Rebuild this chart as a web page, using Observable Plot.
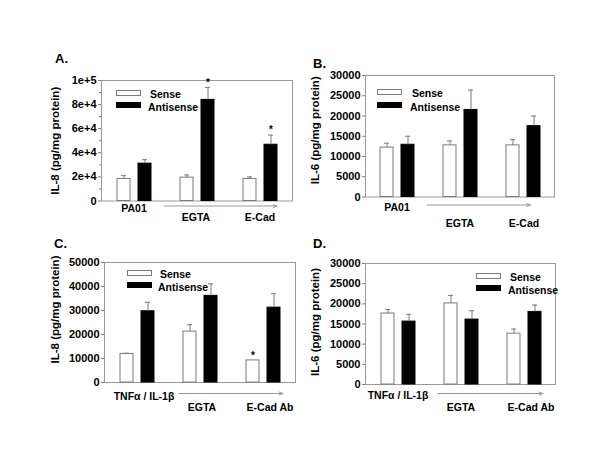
<!DOCTYPE html>
<html>
<head>
<meta charset="utf-8">
<script src="https://cdn.jsdelivr.net/npm/d3@7"></script>
<script src="https://cdn.jsdelivr.net/npm/@observablehq/plot@0.6"></script>
<style>
  html, body { margin: 0; padding: 0; background: #fff; }
  #root { position: relative; width: 600px; height: 450px; overflow: hidden; font-family: "Liberation Sans", Arial, sans-serif; font-weight: bold; color: #000; }
  .panel { position: absolute; }
  .letter { position: absolute; font-size: 13px; font-weight: bold; line-height: 1; }
  .sw { position: absolute; box-sizing: border-box; width: 25px; height: 6px; }
  .lt { position: absolute; font-size: 10.5px; font-weight: bold; line-height: 1; transform: translateY(-50%); white-space: nowrap; }
</style>
</head>
<body>
<div id="root"></div>
<script>
// ---- data ----
const seriesNames = ["Sense", "Antisense"];
const groupsAB = ["PA01", "EGTA", "E-Cad"];
const groupsCD = ["TNFα / IL-1β", "EGTA", "E-Cad Ab"];

// Panel A: IL-8 (PA01)
const aSense = [18300, 19400, 18300];
const aSenseErr = [2700, 2200, 1700];
const aAnti = [31000, 83900, 46700];
const aAntiErr = [3300, 10400, 8000];
const aSenseStar = ["", "", ""];
const aAntiStar = ["", "*", "*"];
const aTicks = [0, 20000, 40000, 60000, 80000, 100000];
const aTickLabels = ["0", "2e+4", "4e+4", "6e+4", "8e+4", "1e+5"];

// Panel B: IL-6 (PA01)
const bSense = [12200, 12750, 12750];
const bSenseErr = [1080, 1080, 1400];
const bAnti = [12900, 21500, 17500];
const bAntiErr = [2100, 4900, 2500];
const bSenseStar = ["", "", ""];
const bAntiStar = ["", "", ""];
const bTicks = [0, 5000, 10000, 15000, 20000, 25000, 30000];
const bTickLabels = ["0", "5000", "10000", "15000", "20000", "25000", "30000"];

// Panel C: IL-8 (TNFα / IL-1β)
const cSense = [11900, 21200, 9200];
const cSenseErr = [300, 2900, 0];
const cAnti = [29700, 36100, 31200];
const cAntiErr = [3700, 5000, 5800];
const cSenseStar = ["", "", "*"];
const cAntiStar = ["", "", ""];
const cTicks = [0, 10000, 20000, 30000, 40000, 50000];
const cTickLabels = ["0", "10000", "20000", "30000", "40000", "50000"];

// Panel D: IL-6 (TNFα / IL-1β)
const dSense = [17600, 20100, 12600];
const dSenseErr = [1000, 2000, 1150];
const dAnti = [15600, 16100, 18000];
const dAntiErr = [1800, 2200, 1700];
const dSenseStar = ["", "", ""];
const dAntiStar = ["", "", ""];
const dTicks = bTicks;
const dTickLabels = bTickLabels;

const yTitles = ["IL-8 (pg/mg protein)", "IL-6 (pg/mg protein)", "IL-8 (pg/mg protein)", "IL-6 (pg/mg protein)"];
const letters = ["A.", "B.", "C.", "D."];

// ---- layout (pixel positions of each panel's frame, styles) ----
const M = {left: 62, right: 8, top: 12, bottom: 34};
const panels = [
  {letter: letters[0], title: yTitles[0], groups: groupsAB, sense: aSense, senseErr: aSenseErr, anti: aAnti, antiErr: aAntiErr, senseStar: aSenseStar, antiStar: aAntiStar, ticks: aTicks, tickLabels: aTickLabels, minor: true,
   frame: {l: 101, r: 292, t: 79.5, b: 200}, titleDx: -46, titleDy: 0,
   xLabelDy: [8, 17, 17], xLabelDx: [0, -1, 0], arrow: {dy: 5, dx: 17, inset: 13},
   letterPos: [55, 52], legend: {x: 116, y1: 90, y2: 102, tx: 148}},
  {letter: letters[1], title: yTitles[1], groups: groupsAB, sense: bSense, senseErr: bSenseErr, anti: bAnti, antiErr: bAntiErr, senseStar: bSenseStar, antiStar: bAntiStar, ticks: bTicks, tickLabels: bTickLabels, minor: false,
   frame: {l: 365, r: 554, t: 74.5, b: 196}, titleDx: -50, titleDy: -6,
   xLabelDy: [11, 27, 27], xLabelDx: [0, 0, 1], arrow: {dy: 8, dx: 7.5, inset: 23},
   letterPos: [313, 57], legend: {x: 377, y1: 89, y2: 102, tx: 410}},
  {letter: letters[2], title: yTitles[2], groups: groupsCD, sense: cSense, senseErr: cSenseErr, anti: cAnti, antiErr: cAntiErr, senseStar: cSenseStar, antiStar: cAntiStar, ticks: cTicks, tickLabels: cTickLabels, minor: false,
   frame: {l: 104, r: 295, t: 262, b: 382}, titleDx: -49, titleDy: -13,
   xLabelDy: [14, 25, 25], xLabelDx: [7, 2, 7], arrow: {dy: 11, dx: 20, inset: 22},
   letterPos: [54, 237], legend: {x: 127, y1: 270, y2: 282, tx: 158}},
  {letter: letters[3], title: yTitles[3], groups: groupsCD, sense: dSense, senseErr: dSenseErr, anti: dAnti, antiErr: dAntiErr, senseStar: dSenseStar, antiStar: dAntiStar, ticks: dTicks, tickLabels: dTickLabels, minor: false,
   frame: {l: 365, r: 555, t: 263, b: 384}, titleDx: -50, titleDy: -2,
   xLabelDy: [11, 23, 23], xLabelDx: [0, 0, 7], arrow: {dy: 9, dx: 19, inset: 21},
   letterPos: [313, 237], legend: {x: 476, y1: 273, y2: 285, tx: 508}}
];

const GREY = "#7a7a7a";
const root = document.getElementById("root");

function makePanel(p) {
  const rows = p.groups.flatMap((g, i) => [
    {group: g, series: seriesNames[0], value: p.sense[i], err: p.senseErr[i], star: p.senseStar[i]},
    {group: g, series: seriesNames[1], value: p.anti[i], err: p.antiErr[i], star: p.antiStar[i]}
  ]);
  const sense = rows.filter(d => d.series === seriesNames[0]);
  const anti = rows.filter(d => d.series === seriesNames[1]);
  const fw = p.frame.r - p.frame.l, fh = p.frame.b - p.frame.t;
  const width = M.left + fw + M.right, height = M.top + fh + M.bottom;
  const ymax = p.ticks[p.ticks.length - 1];
  const minorTicks = p.ticks.slice(1).map((t, i) => (t + p.ticks[i]) / 2);
  const labels = p.groups.map((g, i) => ({group: g, i}));
  const top = d => d.value + d.err;

  const marks = [
    Plot.frame({stroke: "#9a9a9a"}),
    Plot.axisY({ticks: p.ticks, tickFormat: d => p.tickLabels[p.ticks.indexOf(d)], tickSize: 3, tickPadding: 2, stroke: GREY, fill: "#000", fontSize: 11, label: null}),
    p.minor ? Plot.axisY({ticks: minorTicks, tickFormat: () => "", tickSize: 2, stroke: GREY, label: null}) : null,
    Plot.text([p.title], {text: d => d, frameAnchor: "left", textAnchor: "middle", rotate: -90, dx: p.titleDx, dy: p.titleDy, fontSize: 11.5, fontWeight: "bold", fill: "#000"}),
    Plot.barY(sense, {x: "group", y: "value", fill: "white", stroke: GREY, insetLeft: 15, insetRight: 35}),
    Plot.barY(anti, {x: "group", y: "value", fill: "black", stroke: "black", insetLeft: 36, insetRight: 14}),
    Plot.ruleX(sense.filter(d => d.err > 0), {x: "group", y1: "value", y2: top, dx: -10, stroke: GREY}),
    Plot.tickY(sense.filter(d => d.err > 0), {x: "group", y: top, insetLeft: 19, insetRight: 39, stroke: GREY}),
    Plot.ruleX(anti.filter(d => d.err > 0), {x: "group", y1: "value", y2: top, dx: 11, stroke: GREY}),
    Plot.tickY(anti.filter(d => d.err > 0), {x: "group", y: top, insetLeft: 40, insetRight: 18, stroke: GREY}),
    Plot.text(sense.filter(d => d.star), {x: "group", y: top, text: "star", dx: -10, dy: -5, fontSize: 10, fill: "#000"}),
    Plot.text(anti.filter(d => d.star), {x: "group", y: top, text: "star", dx: 11, dy: -5, fontSize: 10, fill: "#000"}),
    ...labels.map(l => Plot.text([l], {x: "group", text: "group", frameAnchor: "bottom", dy: p.xLabelDy[l.i], dx: p.xLabelDx[l.i], lineAnchor: "middle", fontSize: 10.5, fontWeight: "bold", fill: "#000"})),
    Plot.arrow([{a: p.groups[0], b: p.groups[2]}], {x1: "a", x2: "b", y1: () => 0, y2: () => 0, dy: p.arrow.dy, dx: p.arrow.dx, insetStart: p.arrow.inset, stroke: "#999", strokeWidth: 1, headLength: 6, headAngle: 40})
  ].filter(Boolean);

  const svg = Plot.plot({
    width, height,
    marginLeft: M.left, marginRight: M.right, marginTop: M.top, marginBottom: M.bottom,
    x: {type: "band", domain: p.groups, padding: 0, axis: null},
    y: {domain: [0, ymax]},
    style: {fontFamily: '"Liberation Sans", Arial, sans-serif', fontSize: "10.5px", fontWeight: "bold", background: "transparent", overflow: "visible", color: "#000"},
    marks
  });
  const div = document.createElement("div");
  div.className = "panel";
  div.style.left = (p.frame.l - M.left) + "px";
  div.style.top = (p.frame.t - M.top) + "px";
  div.appendChild(svg);
  root.appendChild(div);

  // panel letter
  const lt = document.createElement("div");
  lt.className = "letter";
  lt.textContent = p.letter;
  lt.style.left = p.letterPos[0] + "px";
  lt.style.top = p.letterPos[1] + "px";
  root.appendChild(lt);

  // legend
  const lg = p.legend;
  const sw1 = document.createElement("div");
  sw1.className = "sw";
  sw1.style.cssText = `left:${lg.x}px;top:${lg.y1}px;background:#fff;border:1px solid ${GREY};`;
  const sw2 = document.createElement("div");
  sw2.className = "sw";
  sw2.style.cssText = `left:${lg.x}px;top:${lg.y2}px;background:#000;`;
  const t1 = document.createElement("div");
  t1.className = "lt";
  t1.textContent = seriesNames[0];
  t1.style.left = (lg.tx + 2) + "px";
  t1.style.top = (lg.y1 + 4) + "px";
  const t2 = document.createElement("div");
  t2.className = "lt";
  t2.textContent = seriesNames[1];
  t2.style.left = lg.tx + "px";
  t2.style.top = (lg.y2 + 5) + "px";
  [sw1, sw2, t1, t2].forEach(e => root.appendChild(e));
}

panels.forEach(makePanel);
</script>
</body>
</html>
